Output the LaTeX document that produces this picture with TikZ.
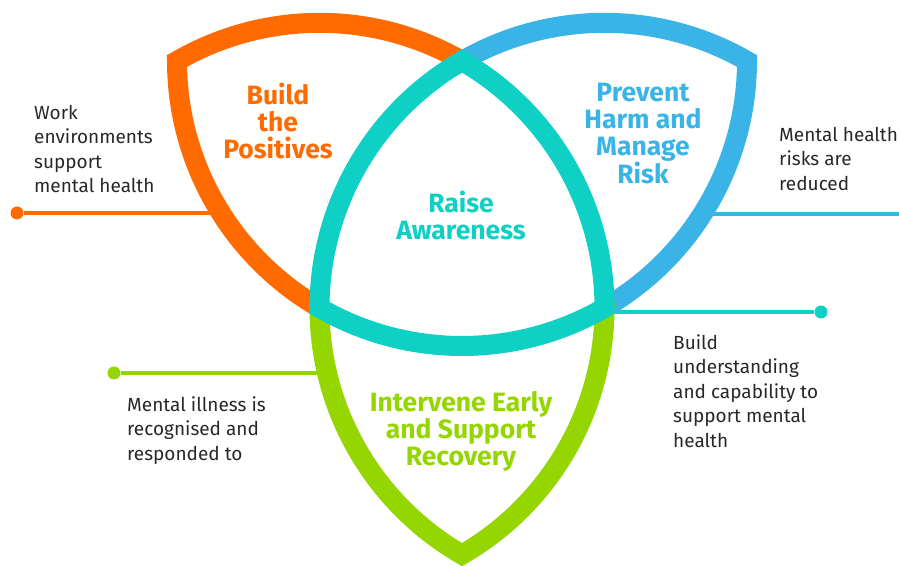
\documentclass[tikz,border=0pt]{standalone}
\usepackage{fontspec}
\setmainfont{Fira Sans}
\definecolor{buildorange}{RGB}{255,107,0}
\definecolor{preventblue}{RGB}{58,180,230}
\definecolor{raiseteal}{RGB}{14,208,196}
\definecolor{recovergreen}{RGB}{149,214,0}
\definecolor{notegray}{RGB}{40,40,40}
\begin{document}
\begin{tikzpicture}[x=1pt,y=1pt,
  band/.style={line width=20pt,line join=miter},
  lead/.style={line width=3.5pt},
  tip/.style={circle,fill,inner sep=0pt,minimum size=13pt},
  note/.style={text=notegray,font=\fontsize{19}{24.5}\selectfont,align=left,anchor=north west,inner sep=0pt},
  title/.style={font=\fontsize{26.5}{27}\selectfont\bfseries,align=center,anchor=north,inner sep=0pt}]
  \def\s{285pt}
  \useasboundingbox (0,0) rectangle (899,565);
  % corners of the triangle lattice
  \coordinate (A) at (177,504);
  \coordinate (B) at (462,504);
  \coordinate (C) at (747,504);
  \coordinate (D) at (319.5,257.2);
  \coordinate (E) at (604.5,257.2);
  \coordinate (F) at (462,10.4);
  % leader lines
  \node[tip,buildorange] (dotL) at (17,352) {};
  \coordinate (endL) at (221,352);
  \draw[lead,buildorange] (dotL) -- (endL);
  \coordinate (startR) at (700,351);
  \coordinate (endR) at (899,351);
  \draw[lead,preventblue] (startR) -- (endR);
  \coordinate (startT) at (604,253);
  \node[tip,raiseteal] (dotT) at (821,253) {};
  \draw[lead,raiseteal] (startT) -- (dotT);
  \node[tip,recovergreen] (dotG) at (114,192) {};
  \coordinate (endG) at (322,192);
  \draw[lead,recovergreen] (dotG) -- (endG);
  % the four shields
  \draw[band,buildorange] (A) arc[start angle=120,end angle=60,radius=\s]
    arc[start angle=0,end angle=-60,radius=\s]
    arc[start angle=240,end angle=180,radius=\s] -- cycle;
  \draw[band,preventblue] (B) arc[start angle=120,end angle=60,radius=\s]
    arc[start angle=0,end angle=-60,radius=\s]
    arc[start angle=240,end angle=180,radius=\s] -- cycle;
  \draw[band,recovergreen] (D) arc[start angle=120,end angle=60,radius=\s]
    arc[start angle=0,end angle=-60,radius=\s]
    arc[start angle=240,end angle=180,radius=\s] -- cycle;
  \filldraw[band,draw=raiseteal,fill=white] (B) arc[start angle=120,end angle=180,radius=\s]
    arc[start angle=240,end angle=300,radius=\s]
    arc[start angle=0,end angle=60,radius=\s] -- cycle;
  % texts
  \node[note] (workNote) at (34,460) {Work\\environments\\support\\mental health};
  \node[note] (riskNote) at (779,438) {Mental health\\risks are\\reduced};
  \node[note] (skillNote) at (673,231) {Build\\understanding\\and capability to\\support mental\\health};
  \node[note] (illNote) at (127,169) {Mental illness is\\recognised and\\responded to};
  \node[title,buildorange] (buildTitle) at (278,482) {Build\\the\\Positives};
  \node[title,preventblue] (preventTitle) at (643,482) {Prevent\\Harm and\\Manage\\Risk};
  \node[title,raiseteal] (raiseTitle) at (461,374) {Raise\\Awareness};
  \node[title,recovergreen] (recoverTitle) at (461,174) {Intervene Early\\and Support\\Recovery};
\end{tikzpicture}
\end{document}
